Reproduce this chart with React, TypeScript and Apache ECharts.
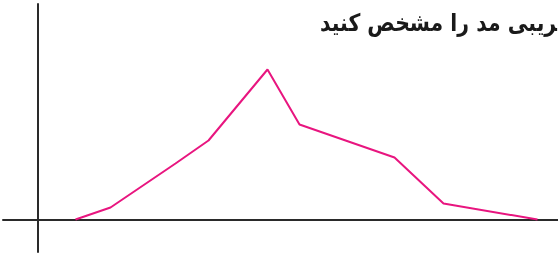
import React, { useEffect, useRef } from "react";
import * as echarts from "echarts";

const xValues = [3.8, 7.3, 13.8, 17.1, 23.0, 26.2, 35.7, 40.6, 50.0];
const yValues = [0, 1.2, 5.6, 7.9, 15.0, 9.5, 6.2, 1.6, 0];
const caption = "\u200Dریبی مد را مشخص کنید";

export default function App() {
  const ref = useRef<HTMLDivElement>(null);
  useEffect(() => {
    if (!ref.current) return;
    const chart = echarts.init(ref.current, null, { renderer: "svg" });
    const axisLine = { show: true, onZero: true, lineStyle: { color: "#2a2a2a", width: 2 } };
    chart.setOption({
      animation: false,
      grid: { left: 3, right: 0, top: 4, bottom: 3 },
      xAxis: {
        type: "value",
        min: -3.45,
        max: 52.05,
        axisLine,
        axisTick: { show: false },
        axisLabel: { show: false },
        splitLine: { show: false },
      },
      yAxis: {
        type: "value",
        min: -3.25,
        max: 21.55,
        axisLine,
        axisTick: { show: false },
        axisLabel: { show: false },
        splitLine: { show: false },
      },
      graphic: [
        {
          type: "text",
          x: 557,
          y: 22,
          scaleX: 0.85,
          style: {
            text: caption,
            font: "600 24px 'DejaVu Sans'",
            fill: "#1a1a1a",
            align: "right",
            verticalAlign: "middle",
          },
        },
      ],
      series: [
        {
          type: "line",
          data: xValues.map((x, i) => [x, yValues[i]]),
          symbol: "none",
          lineStyle: { color: "#e8157f", width: 2 },
          z: 5,
        },
      ],
    });
    return () => chart.dispose();
  }, []);
  return <div ref={ref} style={{ width: 558, height: 255, position: "fixed", left: 0, top: 0 }} />;
}
